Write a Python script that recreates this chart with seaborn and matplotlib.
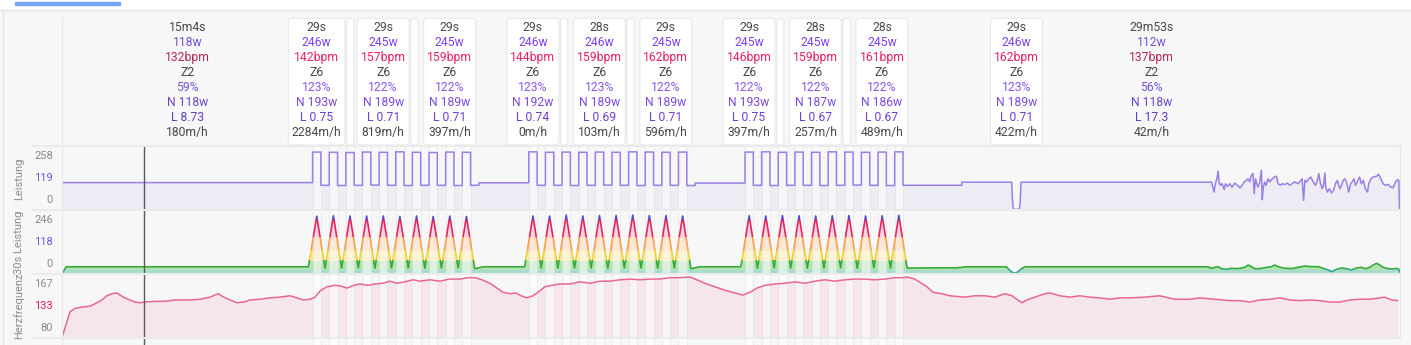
import numpy as np
import pandas as pd
import matplotlib
matplotlib.use("Agg")
import matplotlib.pyplot as plt
import seaborn as sns
from matplotlib.patches import FancyBboxPatch, Rectangle
from matplotlib.lines import Line2D
from matplotlib.transforms import IdentityTransform, offset_copy

# ---------------------------------------------------------------- data
total_s = 4827
warmup_s = 904
warm_w = 119
set_starts = [904, 1684, 2464]
rep_on_s = 30
rep_cycle_s = 60
cursor_s = 296

set_on_w = [[255, 254, 253, 255, 254, 256, 254, 253, 255, 254],
            [256, 254, 255, 254, 255, 254, 256, 255, 254, 255],
            [255, 256, 254, 255, 254, 256, 255, 254, 255, 256]]
set_off_w = [[107, 106, 107, 108, 107, 106, 107, 107, 106, 107],
             [107, 107, 106, 107, 108, 107, 106, 107, 107, 106],
             [107, 106, 107, 107, 106, 107, 108, 107, 106, 107]]
rest_w = [118, 117]

cool_pw_t = [3064, 3246, 3246, 3426, 3429, 3432, 3454, 3457, 3460, 4140]
cool_pw = [107, 107, 121, 121, 40, 0, 0, 40, 121, 121]

noise_t = [4147, 4153, 4156, 4161, 4166, 4171, 4174, 4179, 4185, 4193,
           4197, 4205, 4213, 4221, 4231, 4241, 4249, 4255, 4265, 4273,
           4279, 4285, 4291, 4297, 4301, 4306, 4310, 4315, 4321, 4327,
           4330, 4334, 4339, 4344, 4351, 4357, 4363, 4373, 4381, 4387,
           4395, 4402, 4411, 4421, 4429, 4438, 4447, 4459, 4469, 4474,
           4479, 4484, 4490, 4498, 4505, 4514, 4522, 4529, 4534, 4539,
           4546, 4551, 4556, 4559, 4565, 4572, 4580, 4587, 4594, 4601,
           4610, 4616, 4622, 4628, 4634, 4642, 4649, 4654, 4661, 4666,
           4673, 4681, 4688, 4695, 4702, 4710, 4714, 4722, 4730, 4742,
           4750, 4758, 4766, 4774, 4784, 4794, 4802, 4811, 4818, 4823,
           4825]
noise_w = [122, 92, 77, 114, 136, 171, 122, 107, 114, 88,
           114, 102, 114, 99, 117, 107, 96, 102, 122, 129,
           136, 122, 151, 159, 70, 136, 114, 99, 122, 174,
           43, 99, 122, 107, 136, 122, 132, 144, 147, 114,
           107, 114, 110, 117, 107, 114, 122, 114, 129, 136,
           40, 129, 122, 136, 144, 122, 107, 129, 159, 122,
           92, 107, 162, 99, 77, 92, 73, 84, 114, 129,
           92, 107, 129, 136, 122, 77, 114, 122, 136, 107,
           122, 144, 114, 129, 92, 77, 114, 136, 144, 147,
           156, 136, 114, 107, 111, 99, 96, 122, 132, 129,
           0]

# 30s power (zone band chart)
warm30 = 30
peaks30 = [[241, 243, 242, 242, 242, 240, 242, 240, 242, 240],
           [242, 242, 246, 242, 244, 244, 246, 244, 244, 242],
           [243, 242, 244, 243, 242, 243, 244, 242, 243, 245]]
troughs30 = [[24, 25, 25, 24, 25, 25, 24, 25, 25],
             [25, 24, 25, 25, 24, 25, 25, 24, 25],
             [24, 25, 25, 24, 25, 25, 24, 25, 24]]
rest30 = [22, 30]
cool30_t = [3049, 3231, 3261, 3407, 3417, 3427, 3437, 3447, 3457, 3473, 4135]
cool30_v = [25, 26, 30, 30, 18, 8, 3, 8, 18, 30, 30]
n30_t = [4147, 4159, 4171, 4183, 4201, 4219, 4243, 4267, 4279, 4291,
         4303, 4321, 4339, 4363, 4375, 4387, 4405, 4435, 4459, 4484,
         4508, 4532, 4550, 4568, 4580, 4598, 4616, 4634, 4652, 4670,
         4688, 4702, 4718, 4730, 4742, 4754, 4766, 4784, 4802, 4814,
         4823, 4827]
n30_v = [23.6, 27.8, 30.6, 22.2, 19.5, 23.6, 22.2, 27.8, 37.5, 30.6,
         22.2, 22.2, 26.4, 30.6, 37.5, 30.6, 25.0, 22.2, 27.8, 33.4,
         30.6, 30.6, 23.6, 16.7, 9.7, 19.5, 25.0, 22.2, 16.7, 25.0,
         27.8, 22.2, 27.8, 37.5, 44.5, 37.5, 27.8, 22.2, 20.9, 23.6,
         19.5, 2.8]
zone_edges = [0, 19.4, 58, 100, 155, 225, 400]

# heart rate
hr_t = [0, 14, 29, 47, 76, 101, 126, 144, 162, 180,
        198, 209, 227, 245, 263, 281, 299, 335, 372, 408,
        462, 498, 534, 563, 584, 606, 631, 656, 678, 714,
        750, 786, 822, 848, 869, 895, 913, 931, 956, 985,
        1006, 1028, 1053, 1075, 1104, 1129, 1158, 1183, 1208, 1237,
        1266, 1291, 1327, 1363, 1399, 1436, 1464, 1490, 1515, 1544,
        1569, 1591, 1616, 1638, 1656, 1677, 1699, 1717, 1742, 1767,
        1796, 1832, 1868, 1905, 1941, 1977, 2013, 2049, 2085, 2121,
        2157, 2193, 2229, 2265, 2290, 2319, 2355, 2391, 2428, 2456,
        2482, 2507, 2536, 2572, 2608, 2644, 2680, 2716, 2752, 2788,
        2824, 2860, 2896, 2932, 2969, 3005, 3034, 3048, 3077, 3120,
        3142, 3174, 3203, 3257, 3293, 3329, 3365, 3401, 3427, 3448,
        3463, 3481, 3510, 3546, 3564, 3600, 3636, 3672, 3708, 3744,
        3780, 3816, 3852, 3906, 3960, 4015, 4069, 4105, 4159, 4213,
        4249, 4285, 4321, 4357, 4393, 4429, 4465, 4502, 4538, 4574,
        4610, 4646, 4682, 4718, 4754, 4772, 4797, 4819]
hr_bpm = [80, 98, 117, 122, 124, 125, 130, 134, 140, 143,
          144, 141, 137, 134, 131, 130, 131, 132, 132, 134,
          134, 135, 138, 143, 138, 134, 130, 131, 134, 135,
          137, 138, 140, 137, 134, 135, 138, 147, 153, 155,
          154, 151, 155, 157, 155, 157, 158, 161, 158, 160,
          163, 161, 163, 161, 164, 164, 166, 166, 163, 158,
          151, 145, 143, 144, 140, 137, 140, 145, 153, 155,
          157, 157, 160, 158, 161, 161, 163, 164, 163, 164,
          164, 166, 166, 167, 163, 158, 153, 148, 144, 141,
          145, 151, 155, 157, 158, 160, 158, 161, 163, 161,
          163, 164, 164, 163, 164, 166, 166, 167, 164, 153,
          145, 143, 140, 138, 140, 140, 138, 143, 140, 134,
          130, 134, 138, 143, 144, 140, 138, 140, 138, 137,
          135, 137, 137, 138, 140, 135, 135, 137, 135, 133,
          133, 131, 134, 135, 137, 134, 133, 134, 133, 131,
          131, 134, 135, 135, 137, 138, 134, 133]

# tick labels (max / average / min)
p1_ticks = ["258", "119", "0"]
p2_ticks = ["246", "118", "0"]
p3_ticks = ["167", "133", "80"]

# interval labels
lab_start = [0, 904, 1144, 1384, 1684, 1924, 2164, 2464, 2704, 2944, 3429, 3034]
lab_len = [904, 29, 29, 29, 29, 28, 29, 29, 28, 28, 29, 1793]
lab_dur = ["15m4s", "29s", "29s", "29s", "29s", "28s", "29s", "29s", "28s", "28s", "29s", "29m53s"]
lab_watts = [118, 246, 245, 245, 246, 246, 245, 245, 245, 245, 246, 112]
lab_bpm = [132, 142, 157, 159, 144, 159, 162, 146, 159, 161, 162, 137]
lab_zone = ["Z2", "Z6", "Z6", "Z6", "Z6", "Z6", "Z6", "Z6", "Z6", "Z6", "Z6", "Z2"]
lab_pct = [59, 123, 122, 122, 123, 123, 122, 122, 122, 122, 123, 56]
lab_norm = [118, 193, 189, 189, 192, 189, 189, 193, 187, 186, 189, 118]
lab_load = ["8.73", "0.75", "0.71", "0.71", "0.74", "0.69", "0.71", "0.75", "0.67", "0.67", "0.71", "17.3"]
lab_vam = [180, 2284, 819, 397, 0, 103, 596, 397, 257, 489, 422, 42]
lab_boxed = [False, True, True, True, True, True, True, True, True, True, True, False]
lab_stacked = [False, True, True, False, True, True, False, True, True, False, False, False]

# ---------------------------------------------------------------- build series
pw_t, pw_v = [0, 0, warmup_s], [0, warm_w, warm_w]
for s, st in enumerate(set_starts):
    for k in range(len(set_on_w[s])):
        a = st + k * rep_cycle_s
        pw_t += [a, a + rep_on_s, a + rep_on_s, a + rep_cycle_s]
        pw_v += [set_on_w[s][k], set_on_w[s][k], set_off_w[s][k], set_off_w[s][k]]
    if s < len(rest_w):
        end = st + len(set_on_w[s]) * rep_cycle_s
        pw_t += [end, set_starts[s + 1]]
        pw_v += [rest_w[s], rest_w[s]]
pw_t += cool_pw_t + noise_t
pw_v += cool_pw + noise_w
df_p = pd.DataFrame({"t": pw_t, "w": pw_v})

v_t, v_v = [0, 15, set_starts[0] - 15], [0, warm30, warm30]
for s, st in enumerate(set_starts):
    for k in range(len(peaks30[s])):
        a = st + k * rep_cycle_s
        v_t.append(a + 15); v_v.append(peaks30[s][k])
        if k < len(troughs30[s]):
            v_t.append(a + 45); v_v.append(troughs30[s][k])
    if s < 2:
        v_t += [st + 585, st + 615, set_starts[s + 1] - 15]
        v_v += [rest30[0], rest30[1], warm30]
v_t += cool30_t + n30_t
v_v += cool30_v + n30_v
df_v = pd.DataFrame({"t": v_t, "v": v_v})

df_hr = pd.DataFrame({"t": hr_t, "bpm": hr_bpm})

rep_spans = [(st + k * rep_cycle_s, st + k * rep_cycle_s + rep_on_s)
             for st in set_starts for k in range(10)]

# ---------------------------------------------------------------- style
sns.set_theme(style="white")
plt.rcParams["font.family"] = ["Roboto", "DejaVu Sans"]

BG = "#f7f7f7"
W, H = 1411, 345
AX_L, AX_R = 62, 1400
fig = plt.figure(figsize=(W / 100, H / 100), dpi=100, facecolor=BG)


def px_axes(top, bottom):
    ax = fig.add_axes([AX_L / W, 1 - bottom / H, (AX_R - AX_L) / W, (bottom - top) / H])
    ax.set_facecolor("none")
    for sp in ax.spines.values():
        sp.set_visible(False)
    ax.set_xticks([]); ax.set_yticks([])
    ax.set_xlim(0, total_s)
    return ax


def stripes(ax):
    for a, b in rep_spans:
        ax.axvspan(a, b, facecolor="white", alpha=0.55, edgecolor="#dcdcdc",
                   lw=0.6, zorder=1.5)
    ax.axvline(cursor_s, color="#5a5a5a", lw=1.0, zorder=5)


def ticks(ax, labels, colors):
    tr = offset_copy(ax.transAxes, fig=fig, x=-9, y=0, units="dots")
    for lbl, fy, c in zip(labels, [0.84, 0.5, 0.16], colors):
        ax.text(0, fy, lbl, transform=tr, ha="right", va="center",
                fontsize=8, color=c)


GREY = "#8a8a8a"

# panel 1: power
ax1 = px_axes(146, 210)
ax1.set_ylim(-3, 282)
ax1.fill_between(df_p.t, -3, df_p.w, color="#edebf4", lw=0, zorder=1)
sns.lineplot(data=df_p, x="t", y="w", ax=ax1, color="#9a7fe6", lw=1.1,
             estimator=None, sort=False, zorder=2)
stripes(ax1)
ticks(ax1, p1_ticks, [GREY, "#7b4fe0", GREY])

# panel 2: 30s power in zone bands
ax2 = px_axes(210, 274)
ax2.set_ylim(0, 267)
band_fill = ["#a7dccd", "#b3e2b3", "#fde9ac", "#fccaa3", "#f2a5bb", "#b69ceb"]
band_line = ["#35a597", "#35ab37", "#f4cf35", "#f7a04c", "#e3245c", "#5b45dc"]
for i in range(len(band_fill)):
    lo, hi = zone_edges[i], zone_edges[i + 1]
    poly = ax2.fill_between(df_v.t, 0, df_v.v, color=band_fill[i], lw=0, zorder=1)
    poly.set_clip_path(Rectangle((0, lo), total_s, hi - lo, transform=ax2.transData))
    sns.lineplot(data=df_v, x="t", y="v", ax=ax2, color=band_line[i], lw=1.2,
                 estimator=None, sort=False, zorder=2)
    ax2.lines[-1].set_clip_path(Rectangle((0, lo), total_s, hi - lo,
                                          transform=ax2.transData))
stripes(ax2)
ticks(ax2, p2_ticks, [GREY, "#7b4fe0", GREY])

# panel 3: heart rate
ax3 = px_axes(274, 338)
ax3.set_ylim(79.3, 171.3)
ax3.fill_between(df_hr.t, 79.3, df_hr.bpm, color="#f6e6eb", lw=0, zorder=1)
sns.lineplot(data=df_hr, x="t", y="bpm", ax=ax3, color="#e8678f", lw=1.1,
             estimator=None, sort=False, zorder=2)
stripes(ax3)
ticks(ax3, p3_ticks, [GREY, "#e8185c", GREY])

# bottom sliver (next panel)
ax4 = px_axes(338, 360)
stripes(ax4)

for ax in (ax1, ax2, ax3, ax4):
    ax.set_xlabel(""); ax.set_ylabel("")

# axis titles
fig.text(19 / W, 1 - 179 / H, "Leistung", rotation=90, ha="center", va="center",
         fontsize=8, color="#8c8c8c")
fig.text(19 / W, 1 - 242 / H, "30s Leistung", rotation=90, ha="center", va="center",
         fontsize=8, color="#8c8c8c")
fig.text(19 / W, 1 - 306 / H, "Herzfrequenz", rotation=90, ha="center", va="center",
         fontsize=8, color="#8c8c8c")

# frame decorations
def fline(x0, y0, x1, y1, c, lw):
    fig.add_artist(Line2D([x0 / W, x1 / W], [1 - y0 / H, 1 - y1 / H],
                          transform=fig.transFigure, color=c, lw=lw, zorder=0.5))

fig.add_artist(Rectangle((0, 1 - 9.5 / H), 1, 9.5 / H, transform=fig.transFigure,
                         color="white", zorder=0.4))
fline(0, 9.5, W, 9.5, "#e3e3e3", 1.0)
fig.add_artist(Rectangle((15 / W, 1 - 4.7 / H), 105 / W, 2.2 / H,
                         transform=fig.transFigure, color="#73a6f4", zorder=0.6))
fline(2.7, 10, 2.7, H, "#e4e4e4", 0.8)
fline(61.7, 18, 61.7, H, "#e6e6e6", 0.8)
fline(AX_R, 146, AX_R, 338, "#e6e6e6", 0.8)
for yy in (146, 210, 274, 338):
    fline(32, yy, AX_R, yy, "#ebebeb", 1.5)

# ---------------------------------------------------------------- interval labels
axL = fig.add_axes([AX_L / W, 1 - 146 / H, (AX_R - AX_L) / W, 146 / H])
axL.set_facecolor("none"); axL.axis("off")
axL.set_xlim(0, total_s); axL.set_ylim(146, 0)

zone_cols = {
    "Z2": dict(w="#6f4fd2", bpm="#b3245a", pct="#7650d8", n="#6a45c8", l="#5f3dc2"),
    "Z6": dict(w="#7d3ff0", bpm="#ec1f5f", pct="#8c55ea", n="#7e47e2", l="#6f3fd8"),
}
DARK = "#474747"
FS = 8.7
label_texts = []
for i in range(len(lab_dur)):
    xc = lab_start[i] + lab_len[i] / 2
    zc = zone_cols[lab_zone[i]]
    lines = [(lab_dur[i], DARK), (f"{lab_watts[i]}w", zc["w"]),
             (f"{lab_bpm[i]}bpm", zc["bpm"]), (lab_zone[i], DARK),
             (f"{lab_pct[i]}%", zc["pct"]), (f"N {lab_norm[i]}w", zc["n"]),
             (f"L {lab_load[i]}", zc["l"]), (f"{lab_vam[i]}m/h", DARK)]
    ts = []
    for j, (s, c) in enumerate(lines):
        ts.append(axL.text(xc, 27.7 + 15 * j, s, ha="center", va="center",
                           fontsize=FS, color=c, zorder=3))
    label_texts.append(ts)

fig.canvas.draw()
rend = fig.canvas.get_renderer()
for i, ts in enumerate(label_texts):
    if not lab_boxed[i]:
        continue
    exts = [t.get_window_extent(rend) for t in ts]
    x0 = min(e.x0 for e in exts) - 3.5
    x1 = max(e.x1 for e in exts) + 3.5
    yb, yt = H - 145, H - 18.3
    box = FancyBboxPatch((x0, yb), x1 - x0, yt - yb,
                         boxstyle="round,pad=0,rounding_size=4",
                         transform=IdentityTransform(), fc="white", ec="#e8e8e8",
                         lw=0.8, zorder=1)
    box.set_clip_on(False)
    axL.add_artist(box)
    if lab_stacked[i]:
        nb = FancyBboxPatch((x1 + 1.7, yb), 7.3, yt - yb,
                            boxstyle="round,pad=0,rounding_size=3",
                            transform=IdentityTransform(), fc="white", ec="#e8e8e8",
                            lw=0.8, zorder=1)
        nb.set_clip_on(False)
        axL.add_artist(nb)

fig.savefig("out.png", dpi=100, facecolor=BG)
